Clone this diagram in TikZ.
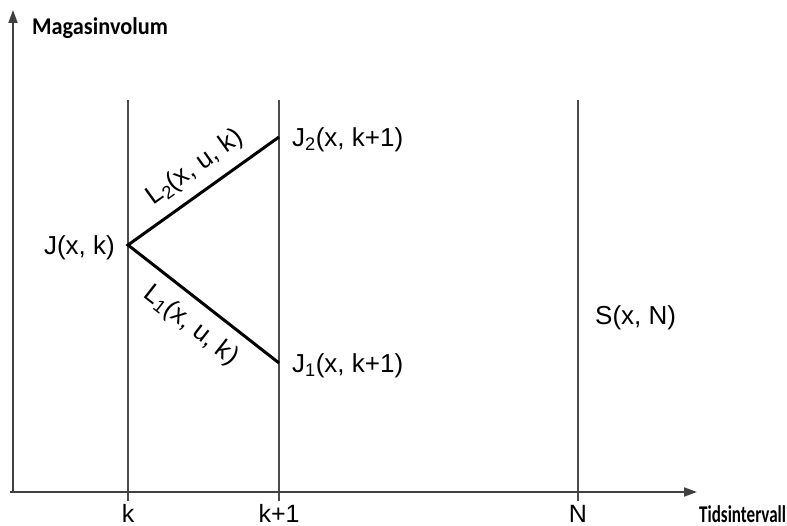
\documentclass[tikz,border=0pt]{standalone}
\usepackage{fontspec}
\setmainfont{Liberation Sans}
\newfontfamily\calib{Carlito}
\usetikzlibrary{arrows.meta}
\begin{document}
\begin{tikzpicture}[x=1pt,y=-1pt,
  axis/.style={draw=black!75,line width=1.8pt,-{Triangle[length=13pt,width=9pt]}},
  grid/.style={draw=black!70,line width=1.1pt},
  path/.style={draw=black,line width=3pt},
  lbl/.style={font=\fontsize{26}{28}\selectfont,inner sep=0pt},
  axlbl/.style={font=\calib\bfseries\fontsize{24}{26}\selectfont,inner sep=0pt},
  tick/.style={font=\fontsize{25}{28}\selectfont,inner sep=0pt}]
\useasboundingbox (0,0) rectangle (787,526);
\coordinate (O) at (13,492);
\coordinate (Ytip) at (13,10);
\coordinate (Xtip) at (697,492);
\coordinate (Xs) at (10,492);
% vertical lines
\coordinate (kt) at (128,100); \coordinate (kb) at (128,501);
\coordinate (k1t) at (279,100); \coordinate (k1b) at (279,501);
\coordinate (Nt) at (578,100); \coordinate (Nb) at (578,501);
\draw[grid] (kt) -- (kb);
\draw[grid] (k1t) -- (k1b);
\draw[grid] (Nt) -- (Nb);
\draw[axis] (Xs) -- (Xtip);
\draw[axis] (O) -- (Ytip);
% points
\coordinate (J) at (128,245);
\coordinate (J2) at (279,137);
\coordinate (J1) at (279,363);
\draw[path,line join=miter] (J2) -- (J) -- (J1);
% labels
\node[lbl,anchor=east] (Jl) at (115,248) {J(x, k)};
\node[lbl,anchor=west] (J2l) at (292,140) {J\textsubscript{2}(x, k+1)};
\node[lbl,anchor=west] (J1l) at (292,366) {J\textsubscript{1}(x, k+1)};
\node[lbl,anchor=west] (Sl) at (595,318) {S(x, N)};
\node[lbl,rotate=35.6] (L2l) at (195,168) {L\textsubscript{2}(x, u, k)};
\node[lbl,rotate=-38] (L1l) at (191,326) {L\textsubscript{1}(x, u, k)};
\node[axlbl,anchor=base west] (Yl) at (32,35) {\scalebox{0.93}[1]{Magasinvolum}};
\node[axlbl,anchor=base west] (Xl) at (699,522) {\scalebox{0.71}[1]{Tidsintervall}};
\node[tick,anchor=base] (kl) at (128,522) {k};
\node[tick,anchor=base] (k1l) at (279,522) {k+1};
\node[tick,anchor=base] (Nl) at (578,522) {N};
\end{tikzpicture}
\end{document}
